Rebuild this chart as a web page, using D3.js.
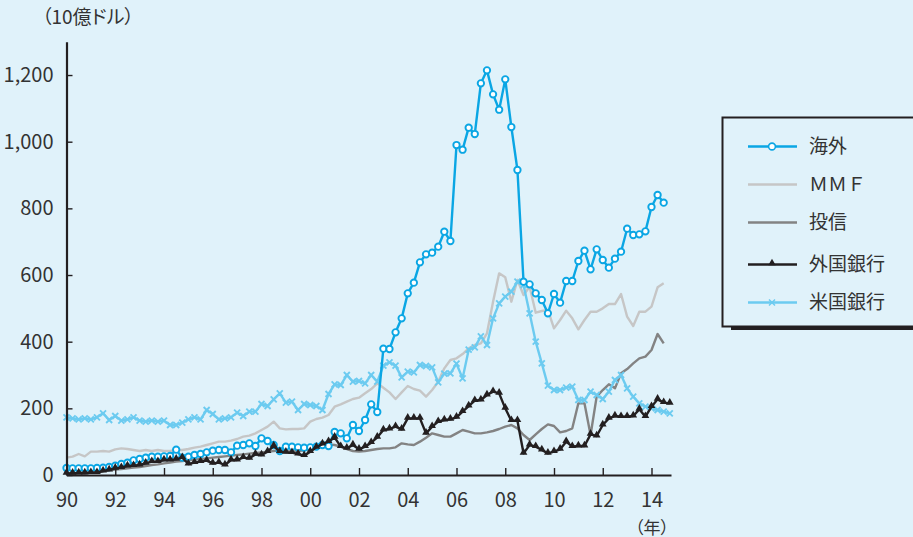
<!DOCTYPE html>
<html>
<head>
<meta charset="utf-8">
<script src="https://cdn.jsdelivr.net/npm/d3@7"></script>
<style>
  html, body { margin: 0; padding: 0; background: #e0f2fa; }
  svg { display: block; }
  text { font-family: "Noto Sans CJK JP", "Noto Sans", sans-serif; fill: #333; }
  .palt { font-feature-settings: "palt"; }
</style>
</head>
<body>
<svg id="chart" width="913" height="537"></svg>
<script>
// Quarterly series, first quarter of 1990 onward (10億ドル)
const startYear = 1990;

const overseas = [
  21, 20, 20, 20,   20, 21, 22, 24,   28, 33, 37, 44,   48, 52, 55, 55,
  56, 57, 76, 52,   55, 60, 63, 68,   73, 75, 75, 68,   88, 90, 95, 87,
  110, 102, 90, 72, 85, 85, 83, 82,   83, 85, 90, 87,   129, 125, 110, 150,
  132, 165, 212, 189, 379, 378, 428, 470, 545, 577, 638, 662,
  667, 685, 730, 702, 990, 976, 1042, 1023, 1175, 1214, 1142, 1096,
  1187, 1044, 915, 580, 572, 545, 525, 485, 543, 517, 582, 582,
  642, 673, 617, 677, 645, 622, 649, 670, 739, 720, 722, 731,
  804, 840, 817
];

const mmf = [
  52, 55, 63, 56,   70, 70, 72, 70,   77, 80, 78, 75,   72, 75, 72, 75,
  72, 72, 75, 75,   78, 82, 85, 90,   95, 100, 100, 103, 108, 115, 118, 125,
  135, 145, 160, 140, 137, 138, 138, 140, 160, 168, 172, 180,
  205, 212, 220, 228, 232, 245, 258, 275, 262, 248, 228, 248,
  267, 258, 253, 235, 255, 280, 320, 345, 350, 363, 380, 390,
  395, 425, 520, 605, 593, 520, 585, 540, 565, 487, 492, 495,
  440, 465, 493, 470, 437, 465, 490, 490, 500, 513, 513, 543,
  475, 447, 490, 490, 505, 563, 575
];

const investmentTrusts = [
  5, 5, 6, 6,       8, 10, 12, 14,    16, 18, 20, 22,   24, 27, 30, 32,
  35, 37, 40, 42,   44, 46, 48, 50,   52, 54, 56, 58,   60, 62, 64, 66,
  68, 70, 72, 74,   72, 70, 72, 74,   78, 82, 88, 92,   90, 85, 78, 72,
  70, 72, 75, 78,   80, 80, 83, 95,   92, 90, 100, 112, 125, 120, 115, 115,
  125, 135, 130, 125, 125, 128, 132, 138, 145, 150, 140, 120,
  105, 122, 138, 152, 147, 128, 132, 140, 215, 215, 120, 235,
  255, 272, 260, 305, 318, 335, 350, 355, 375, 423, 395
];

const foreignBanks = [
  5, 5, 6, 6,       7, 7, 12, 15,     20, 22, 27, 28,   30, 35, 40, 40,
  45, 45, 47, 52,   33, 37, 40, 43,   35, 37, 30, 45,   45, 52, 50, 62,
  60, 70, 87, 70,   68, 67, 63, 58,   70, 83, 93, 100,  113, 85, 80, 90,
  77, 85, 97, 113,  135, 138, 145, 137, 170, 170, 170, 125,
  145, 160, 165, 167, 173, 190, 207, 223, 225, 240, 250, 245,
  200, 163, 163, 65, 90, 85, 75, 65,  70, 77, 100, 85,
  87, 87, 122, 117, 150, 170, 177, 175, 175, 177, 197, 175,
  205, 227, 217, 215
];

const usBanks = [
  173, 170, 167, 170, 167, 173, 185, 165, 177, 163, 167, 173,
  163, 160, 163, 160, 163, 150, 150, 157, 167, 173, 167, 195,
  183, 167, 170, 173, 187, 177, 190, 190, 213, 207, 227, 245,
  217, 220, 195, 213, 210, 207, 195, 243, 272, 270, 300, 280,
  282, 275, 300, 280, 328, 338, 328, 293, 310, 308, 330, 327,
  323, 278, 304, 305, 334, 290, 376, 383, 416, 390, 470, 515,
  535, 550, 580, 570, 485, 400, 335, 268, 255, 255, 262, 265,
  225, 225, 250, 240, 228, 250, 285, 300, 260, 235, 215, 205,
  200, 195, 190, 185
];

const yTicks = [0, 200, 400, 600, 800, 1000, 1200];
const xTicks = [1990, 1992, 1994, 1996, 1998, 2000, 2002, 2004, 2006, 2008, 2010, 2012, 2014];
const xTickLabels = ["90", "92", "94", "96", "98", "00", "02", "04", "06", "08", "10", "12", "14"];

const seriesNames = ["海外", "ＭＭＦ", "投信", "外国銀行", "米国銀行"];

const svg = d3.select("#chart");
const axisColor = "#231f20";

const x = d3.scaleLinear().domain([1990, 2014.8]).range([66.5, 671]);
const y = d3.scaleLinear().domain([0, 1300]).range([475, 41.7]);

const toPoints = arr => arr.map((v, i) => ({ t: startYear + i / 4, v }));

const series = [
  { name: seriesNames[1], data: toPoints(mmf), color: "#c6c6c6", marker: null },
  { name: seriesNames[2], data: toPoints(investmentTrusts), color: "#838383", marker: null },
  { name: seriesNames[4], data: toPoints(usBanks), color: "#6ccbf0", marker: "x" },
  { name: seriesNames[0], data: toPoints(overseas), color: "#0aa6e4", marker: "circle" },
  { name: seriesNames[3], data: toPoints(foreignBanks), color: "#231f20", marker: "triangle" }
];

const line = d3.line().x(d => x(d.t)).y(d => y(d.v));
const triPath = d3.symbol().type(d3.symbolTriangle).size(26)();
const xPath = "M-3,-3L3,3M-3,3L3,-3";

function drawMarkers(g, s, data) {
  if (s.marker === "circle") {
    g.selectAll("circle").data(data).join("circle")
      .attr("cx", d => x(d.t)).attr("cy", d => y(d.v)).attr("r", 3.2)
      .attr("fill", "#fff").attr("stroke", s.color).attr("stroke-width", 1.9);
  } else if (s.marker === "triangle") {
    g.selectAll("path.m").data(data).join("path").attr("class", "m")
      .attr("d", triPath)
      .attr("transform", d => `translate(${x(d.t)},${y(d.v) - 0.8})`)
      .attr("fill", s.color);
  } else if (s.marker === "x") {
    g.selectAll("path.m").data(data).join("path").attr("class", "m")
      .attr("d", xPath)
      .attr("transform", d => `translate(${x(d.t)},${y(d.v)})`)
      .attr("fill", "none").attr("stroke", s.color).attr("stroke-width", 1.9);
  }
}

// Series lines and markers
const plot = svg.append("g");
series.forEach(s => {
  const g = plot.append("g");
  g.append("path").datum(s.data)
    .attr("d", line).attr("fill", "none")
    .attr("stroke", s.color).attr("stroke-width", 2.4)
    .attr("stroke-linejoin", "round");
  drawMarkers(g, s, s.data);
});

// Axes
const yAxis = d3.axisLeft(y).tickValues(yTicks).tickFormat(d3.format(","))
  .tickSizeInner(-6).tickSizeOuter(0).tickPadding(13);
const xAxis = d3.axisBottom(x).tickValues(xTicks)
  .tickFormat((d, i) => xTickLabels[i])
  .tickSizeInner(-7).tickSizeOuter(0).tickPadding(18);

function styleAxis(g) {
  g.select(".domain").attr("stroke", axisColor).attr("stroke-width", 2.2);
  g.selectAll(".tick line").attr("stroke", axisColor).attr("stroke-width", 1.4);
  g.selectAll(".tick text").attr("fill", "#333").attr("font-size", 20)
    .attr("font-family", "\"Noto Sans CJK JP\", \"Noto Sans\", sans-serif");
}

svg.append("g").attr("transform", "translate(0,475)").call(xAxis).call(styleAxis);
svg.append("g").attr("transform", "translate(66.5,0)").call(yAxis).call(styleAxis);

// Unit labels
svg.append("text").attr("class", "palt")
  .attr("x", 42).attr("y", 24).attr("font-size", 19)
  .text("（10億ドル）");
svg.append("text").attr("class", "palt")
  .attr("x", 652).attr("y", 533.5).attr("font-size", 17).attr("text-anchor", "middle")
  .text("（年）");

// Legend
const legend = svg.append("g");
legend.append("rect").attr("x", 731).attr("y", 121).attr("width", 220).attr("height", 209)
  .attr("fill", axisColor);
legend.append("rect").attr("x", 722.5).attr("y", 117.5).attr("width", 220).attr("height", 209)
  .attr("fill", "#e0f2fa").attr("stroke", axisColor).attr("stroke-width", 2);

const legendOrder = [3, 0, 1, 4, 2];
const legendRows = [146.5, 184.5, 222.5, 264.5, 302.5];
legendOrder.forEach((si, r) => {
  const s = series[si];
  const ly = legendRows[r];
  const g = legend.append("g");
  g.append("line").attr("x1", 748).attr("x2", 797).attr("y1", ly).attr("y2", ly)
    .attr("stroke", s.color).attr("stroke-width", 2.4);
  if (s.marker === "circle") {
    g.append("circle").attr("cx", 772).attr("cy", ly).attr("r", 3.4)
      .attr("fill", "#fff").attr("stroke", s.color).attr("stroke-width", 1.6);
  } else if (s.marker === "triangle") {
    g.append("path").attr("d", d3.symbol().type(d3.symbolTriangle).size(24)())
      .attr("transform", `translate(772,${ly - 1.5})`).attr("fill", s.color);
  } else if (s.marker === "x") {
    g.append("path").attr("d", xPath)
      .attr("transform", `translate(772,${ly})`)
      .attr("stroke", s.color).attr("stroke-width", 1.5).attr("fill", "none");
  }
  g.append("text").attr("x", 809).attr("y", ly).attr("dy", "0.36em")
    .attr("font-size", 19).text(s.name);
});
</script>
</body>
</html>
